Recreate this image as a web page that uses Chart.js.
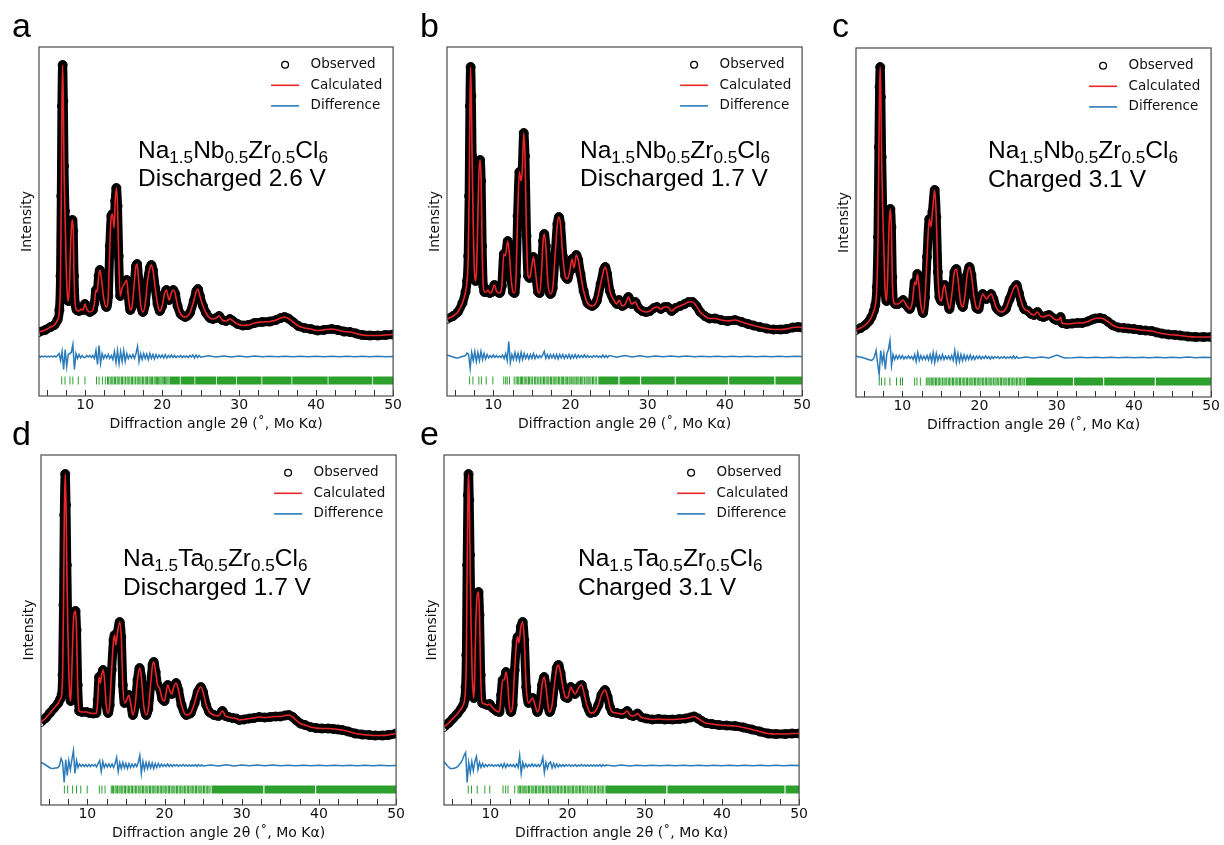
<!DOCTYPE html>
<html>
<head>
<meta charset="utf-8">
<script src="https://cdn.jsdelivr.net/npm/chart.js@4.4.1/dist/chart.umd.min.js"></script>
<style>
  html, body { margin: 0; padding: 0; background: #fff; }
  body { width: 1224px; height: 845px; position: relative; overflow: hidden; }
  canvas { position: absolute; }
  .letter { position: absolute; font-family: "Liberation Sans", Arial, sans-serif; font-size: 34px; line-height: 34px; color: #000; }
  .note { position: absolute; font-family: "Liberation Sans", Arial, sans-serif; font-size: 24.5px; line-height: 28.5px; color: #000; white-space: nowrap; }
  .note sub { font-size: 0.7em; vertical-align: -0.3em; line-height: 0; }
</style>
</head>
<body>
<script>
// ---------- axis definitions ----------
const xTickValues = [5, 7.5, 10, 12.5, 15, 17.5, 20, 22.5, 25, 27.5, 30, 32.5, 35, 37.5, 40, 42.5, 45, 47.5, 50];
const xLabelValues = [10, 20, 30, 40, 50];
const xTitle = 'Diffraction angle 2θ (˚, Mo Kα)';
const yTitle = 'Intensity';
const seriesLabels = ['Observed', 'Calculated', 'Difference'];

// ---------- compositions and cell states ----------
const compoundNb = 'Na<sub>1.5</sub>Nb<sub>0.5</sub>Zr<sub>0.5</sub>Cl<sub>6</sub>';
const compoundTa = 'Na<sub>1.5</sub>Ta<sub>0.5</sub>Zr<sub>0.5</sub>Cl<sub>6</sub>';
const states = ['Discharged 2.6 V', 'Discharged 1.7 V', 'Charged 3.1 V', 'Discharged 1.7 V', 'Charged 3.1 V'];

// ---------- diffraction profiles [2θ, intensity] ----------
const profileA = [[4.0,64],[4.8,66],[5.5,69],[6.0,71],[6.4,76],[6.65,86],[6.8,120],[6.9,200],[6.98,290],[7.07,331],[7.16,295],[7.25,230],[7.37,185],[7.5,140],[7.65,105],[7.8,95],[7.95,110],[8.1,150],[8.25,172],[8.35,176],[8.45,165],[8.55,120],[8.7,92],[8.9,86],[9.2,85],[9.5,87],[9.75,86],[9.96,92],[10.2,87],[10.6,84],[11.0,86],[11.2,93],[11.4,106],[11.55,104],[11.75,120],[11.9,126],[12.1,118],[12.4,98],[12.75,89],[13.0,100],[13.2,150],[13.4,180],[13.55,182],[13.75,168],[13.9,195],[14.05,208],[14.2,190],[14.35,140],[14.55,100],[14.8,108],[15.1,112],[15.4,116],[15.6,100],[15.85,86],[16.1,90],[16.4,115],[16.6,130],[16.75,132],[16.95,115],[17.2,92],[17.5,84],[17.8,92],[18.1,115],[18.4,128],[18.6,131],[18.8,126],[19.1,108],[19.4,92],[19.7,85],[20.0,90],[20.3,102],[20.55,106],[20.9,96],[21.2,103],[21.45,106],[21.7,102],[22.0,90],[22.4,82],[23.0,79],[23.6,83],[24.1,95],[24.45,105],[24.65,107],[24.9,100],[25.3,90],[25.7,83],[26.2,78],[26.6,77],[27.0,78],[27.4,80],[27.8,76],[28.3,75],[28.8,77],[29.2,75],[29.8,72],[30.5,70.5],[31.2,71],[32.0,73],[33.0,74],[34.0,74.5],[34.8,76],[35.4,78],[35.9,79],[36.4,77.5],[37.0,74],[37.7,70],[38.5,68],[39.3,67],[40.2,65.5],[41.0,66],[42.0,67],[42.8,66],[43.6,64.5],[44.4,64],[45.2,62.5],[46.0,61],[47.0,60.5],[48.0,60.5],[49.0,61],[50.0,61.5]];

const profileB = [[4.0,77],[4.8,80],[5.4,84],[6.0,93],[6.4,104],[6.6,115],[6.75,140],[6.87,200],[6.97,290],[7.06,329],[7.15,300],[7.25,240],[7.4,170],[7.55,125],[7.7,115],[7.85,130],[8.0,180],[8.15,225],[8.3,236],[8.42,215],[8.55,150],[8.7,110],[8.86,104],[9.1,104],[9.3,106],[9.55,103],[9.8,104],[10.15,111],[10.4,105],[10.8,103],[11.1,110],[11.36,142],[11.55,140],[11.87,155],[12.05,145],[12.3,118],[12.55,104],[12.75,103],[12.95,120],[13.15,180],[13.38,224],[13.6,215],[13.75,225],[13.94,263],[14.1,240],[14.3,160],[14.5,120],[14.7,118],[14.95,128],[15.2,139],[15.45,125],[15.8,104],[16.0,103],[16.25,125],[16.45,155],[16.6,162],[16.8,150],[17.05,115],[17.4,102],[17.7,108],[18.0,140],[18.3,172],[18.5,179],[18.7,172],[19.0,140],[19.3,120],[19.6,117],[19.9,125],[20.2,137],[20.45,128],[20.75,141],[21.0,136],[21.3,122],[21.7,105],[22.2,93],[22.8,90],[23.4,95],[23.9,112],[24.3,126],[24.5,129],[24.75,122],[25.1,105],[25.6,96],[26.0,92],[26.3,96],[26.7,90],[27.1,92],[27.5,99],[27.9,92],[28.4,94],[28.8,88],[29.3,85],[29.8,84],[30.3,85],[30.8,88],[31.2,89],[31.7,87],[32.2,89],[32.6,89],[33.1,85],[33.6,88],[34.2,90],[34.8,92],[35.3,94],[35.8,94],[36.3,90],[36.8,84],[37.4,80],[38.0,77.5],[38.7,77.5],[39.5,76],[40.3,75],[41.3,76],[42.2,74],[43.0,72],[43.7,70.5],[44.5,69],[45.4,67.5],[46.3,66.5],[47.2,66.5],[48.0,67],[48.8,68.5],[49.5,69],[50.0,68.5]];

const profileC = [[4.0,67],[4.6,69],[5.2,72],[5.7,76],[6.0,80],[6.3,86],[6.5,92],[6.7,110],[6.85,160],[6.97,250],[7.06,310],[7.14,330],[7.22,300],[7.32,240],[7.45,190],[7.6,150],[7.75,110],[7.95,96],[8.1,120],[8.28,170],[8.45,188],[8.58,170],[8.7,120],[8.85,96],[9.1,93],[9.46,93],[9.8,95],[10.1,97],[10.5,92],[10.96,88],[11.3,95],[11.6,115],[11.75,112],[11.95,123],[12.15,112],[12.4,92],[12.68,84],[12.95,100],[13.2,140],[13.5,178],[13.7,170],[13.9,185],[14.2,207],[14.4,180],[14.6,125],[14.8,100],[15.05,96],[15.3,108],[15.48,112],[15.75,100],[16.1,88],[16.45,105],[16.75,125],[17.0,128],[17.25,115],[17.55,95],[17.84,90],[18.1,100],[18.4,122],[18.7,130],[18.95,122],[19.3,100],[19.6,89],[19.86,88],[20.15,97],[20.42,103],[20.7,100],[20.9,98],[21.2,101],[21.5,103],[21.8,98],[22.2,89],[22.8,85],[23.4,88],[23.9,98],[24.4,108],[24.8,112],[25.1,104],[25.5,93],[25.8,88],[26.3,86],[26.7,83],[27.07,82],[27.5,85],[27.9,81],[28.3,80],[28.6,81],[29.0,82],[29.6,78.5],[30.0,77],[30.35,78],[30.5,80],[30.7,74],[31.3,73],[32.0,73.5],[32.7,74],[33.3,74],[34.0,75.5],[34.6,77.5],[35.0,78.5],[35.6,79],[36.1,78],[36.6,75.5],[37.2,72],[38.0,69.5],[38.7,69],[39.3,68.5],[40.0,68],[40.8,67],[41.5,66.5],[42.3,66],[43.0,64.5],[43.6,63.5],[44.5,62.5],[45.3,62],[46.0,61.5],[47.0,60.5],[48.0,60],[49.0,60],[50.0,60]];

const profileD = [[4.0,83],[4.6,87],[5.16,92],[5.7,97],[6.24,102],[6.5,106],[6.67,110],[6.8,130],[6.92,200],[7.02,290],[7.14,331],[7.24,300],[7.34,240],[7.46,180],[7.6,135],[7.75,108],[7.85,104],[7.98,130],[8.15,175],[8.3,192],[8.47,194],[8.6,175],[8.75,120],[8.94,94],[9.3,93],[9.9,93],[10.3,92],[10.8,91.5],[11.18,92],[11.35,105],[11.52,128],[11.7,122],[11.85,130],[12.04,135],[12.2,128],[12.45,100],[12.68,92],[12.9,100],[13.15,135],[13.4,165],[13.54,170],[13.7,160],[13.9,172],[14.19,183],[14.4,168],[14.6,120],[14.83,102],[15.1,105],[15.39,110],[15.65,100],[15.9,90],[16.2,100],[16.5,125],[16.77,137],[17.0,128],[17.3,100],[17.63,90],[17.9,96],[18.2,120],[18.45,140],[18.6,143],[18.85,133],[19.1,120],[19.35,117],[19.7,106],[20.0,104],[20.2,112],[20.42,120],[20.7,114],[20.94,111],[21.2,118],[21.5,122],[21.8,115],[22.2,100],[22.8,90],[23.4,92],[23.9,102],[24.3,113],[24.7,118],[25.0,113],[25.4,100],[25.8,93],[26.4,90],[27.0,89],[27.5,94],[27.9,89],[28.3,88],[28.8,87],[29.3,86.5],[29.67,85],[30.3,85.5],[31.0,86.5],[31.6,87],[32.25,88],[33.0,87.5],[33.7,88],[34.4,88.5],[35.0,88.5],[35.6,89.5],[36.1,90],[36.6,88],[37.1,84.5],[37.6,81.5],[38.2,80],[38.9,78],[39.6,77],[40.4,76.5],[41.2,76.5],[41.9,76],[42.5,75.5],[43.0,75],[43.8,73.5],[44.7,71.5],[45.6,70.5],[46.5,70],[47.3,69.5],[48.2,69.5],[49.0,70],[50.0,71.5]];

const profileE = [[4.0,78],[4.6,82],[5.16,86.5],[5.7,91],[6.24,96.5],[6.5,100],[6.67,105],[6.8,118],[6.9,150],[7.0,240],[7.1,310],[7.18,331],[7.27,305],[7.37,250],[7.5,180],[7.65,130],[7.8,110],[7.87,107],[7.98,130],[8.12,180],[8.3,210],[8.47,213],[8.6,190],[8.75,130],[8.94,102],[9.3,101],[9.6,100],[9.9,101],[10.3,97],[10.8,94],[11.18,93],[11.4,110],[11.6,125],[11.8,125],[12.04,133],[12.25,122],[12.45,100],[12.68,93],[12.9,100],[13.15,135],[13.4,163],[13.54,168],[13.7,162],[13.95,178],[14.19,183],[14.4,165],[14.65,118],[14.96,102],[15.2,104],[15.48,107],[15.8,100],[16.1,93],[16.4,100],[16.7,120],[16.98,128],[17.25,115],[17.5,98],[17.7,93],[18.0,100],[18.3,120],[18.6,137],[18.83,140],[19.1,132],[19.4,118],[19.7,108],[20.0,107],[20.2,112],[20.42,118],[20.7,114],[20.98,111],[21.3,115],[21.6,119],[21.84,120],[22.1,113],[22.5,100],[23.0,92],[23.5,93],[24.0,100],[24.4,110],[24.85,115],[25.2,108],[25.5,98],[25.8,93],[26.4,92],[27.0,91],[27.3,91.5],[27.73,94],[28.1,90],[28.5,89],[28.85,90],[29.06,91.5],[29.5,88],[30.2,86.5],[31.0,85.5],[31.8,86],[32.6,85.5],[33.6,85.5],[34.5,86],[35.3,86.5],[35.9,87.5],[36.4,88.5],[36.9,86.5],[37.4,84],[37.9,82],[38.7,81],[39.6,80],[40.6,79.5],[41.7,79],[42.8,77.5],[43.9,75.5],[44.9,73.5],[46.0,71.5],[47.0,71],[48.2,71],[49.1,71.5],[50.0,71.5]];

// ---------- difference curves (obs - calc) ----------
// fine grid: 4.0 to 24.8 in steps of 0.2; coarse grid: 25 to 50 in steps of 1
const diffFineStart = 4, diffFineStep = 0.2, diffCoarseStart = 25, diffCoarseStep = 1;
const diffOffset = 39.5;

const diffFineA = [
  0.5, -0.5, 0.5, -0.3, 0.4, -0.4, 0.3, -0.5, 0.5, -0.3,
  0.6, -0.6, 1, 3, -4, 5, -13, 7, -10, 2,
  3, 4, 12, -13, 3, -2, 2, -1.5, 1, -1,
  -1, 1, -0.5, 1, -1, 1, -2, 6, -8, 11,
  -7, 3, -2, 1.5, -1.5, 2, -2, 1, -3, 5,
  -6, 6, -7, 5, -5, 6, -5, 3, -2, 1.5,
  -1.5, 2, -2, 3, 10, -5, 3, -3, 3, -2,
  2.5, -3, 3, -2, 2, -2.5, 2, -1.5, 1.5, -1,
  1.5, -1.5, 2, -1.5, 1, -1, 1.5, -1, 1, -1,
  0.5, -0.5, 1, -1, 0.5, -0.5, 0.5, -1, 1, -0.5,
  1.5, -1.5, 1.5, -1, 1];
const diffCoarseA = [-0.8, 0.8, -0.5, 0.6, -0.5, 0.5, -0.4, 0.4, -0.3, 0.3, -0.3, 0.3, -0.3, 0.2, -0.2, 0.2, -0.2, 0.2, -0.2, 0.2, -0.2, 0.2, -0.2, 0.2, -0.2, 0];

const diffFineB = [
  1.5, 1, 0.5, 0, -0.5, -1, -1.5, -1.5, -1, -0.5,
  0, 0.5, 1, 3.5, 2, -12, 4, -4, 5, -5,
  4, -4, 5, -3, 3, -2.5, 2, -1.5, 1, -1,
  1.5, -1, 1, -1, 0.5, -1, 1.5, -2, 3, -4,
  15, -6, 2, -3, 4, -3, 3, -4, 4, -3,
  3, -2, 2, -2.5, 2, -2, 3, -2, 1.5, -1.5,
  1, -1, 1.5, 5, -2, 2, -2, 2, -1.5, 2,
  -2, 2, -2.5, 2, -1.5, 2, -2, 1.5, -1.5, 2,
  -2, 1.5, -1.5, 2, -1.5, 1.5, -1, 1, -1, 1.5,
  -1, 1, -1, 0.5, -1, 1, -0.5, 1, -1, 0.5,
  -1, 1.5, -1, 1, -1];
const diffCoarseB = [1, -0.8, 1, -0.5, 0.8, -0.5, 0.5, -0.3, 0.5, -0.3, 0.4, -0.3, 0.3, -0.3, 0.3, -0.2, 0.2, -0.2, 0.2, -0.2, 0.2, -0.2, 0.2, -0.2, 0.2, 0];

const diffFineC = [
  1.5, 1, 0.5, 0.5, 0, -0.5, -1, -1.5, -2, -2.5,
  -3, -2, 1, 7, -6, -17, 7, -5, 4, -12,
  4, 8, 17, -8, 3, -2, 2, -1.5, 2, -1,
  2, -1.5, 1, -1, 1.5, -1, 1, -2, 3, -4,
  5, -3, 2, -2, 1.5, -2, 2, -2.5, 3, -4,
  5, -5, 4, -3, 2, -2, 3, -2, 1.5, -1.5,
  1.5, -2, 2, -3, 7, -5, 4, -4, 3, -3,
  2.5, -2.5, 2, -2, 2.5, -2, 1.5, -2, 1.5, -1,
  1.5, -1.5, 1, -1, 1.5, -1, 1, -1.5, 1, -1,
  1, -0.5, 1, -1, 0.5, -0.5, 1, -1, 0.5, -0.5,
  1, -1, 1.5, -1, 1];
const diffCoarseC = [-0.8, 0.6, -0.5, 0.5, -0.4, 2.5, -0.4, -0.3, 0.3, -0.3, 0.3, -0.2, 0.2, -0.2, 0.2, -0.2, 0.2, -0.2, 0.2, -0.2, 0.2, -0.2, 0.6, -0.2, 0.2, 0];

const diffFineD = [
  3, 2.5, 1.5, 0.5, -0.5, -1.5, -2.5, -3, -3, -2.5,
  -2.5, -2, 0, 7, 3, -17, 6, -10, 5, -4,
  6, 15, -8, 5, -2, 1.5, -1, 1, -1, 1,
  -1, 1, -1, 1, -0.5, 1, -1.5, 2, 5, -6,
  4, -2, 1.5, -1.5, 1.5, -1.5, 1.5, -2, 2, 8,
  -6, 3, -3, 3, -2.5, 2, -3, 2, -2, 1.5,
  -1.5, 1.5, -1, 3, 10, -8, 4, -4, 3, -3,
  3, -2.5, 2.5, -3, 2, -2, 2, -1.5, 1.5, -1,
  1, -1, 1.5, -1, 1, -1, 1, -0.5, 1, -1,
  0.5, -0.5, 1, -0.5, 0.5, -0.5, 0.5, -0.5, 0.5, -0.5,
  1, -1, 1, -0.5, 0.5];
const diffCoarseD = [-0.5, 0.5, -0.4, 0.8, -0.4, 0.4, -0.3, 0.4, -0.3, 0.5, -0.3, 0.3, -0.2, 0.3, -0.2, 0.2, -0.2, 0.3, -0.2, 0.2, -0.2, 0.2, -0.2, 0.2, -0.2, 0];

const diffFineE = [
  4, 2, 0, -1.5, -3, -3, -3, -2.5, -2, -1,
  1, 3, 6, 10, 13, -17, 3, -7, 4, -5,
  4, 9, -4, 3, -2, 2, -1.5, 1, -1, 1,
  -0.5, 1, -1, 0.5, -0.5, 1, -1, 1.5, -2, 2,
  -2, 1.5, -1, 1, -1, 1, -1.5, 1.5, -2, 10,
  -8, 3, -2, 1.5, -1.5, 1, -1, 1.5, -1, 1,
  -1, 1, -1, 2, 8, -7, 3, -3, 2, 3.5,
  -2.5, 2, -2, 1.5, -1.5, 1, -1, 1, -1, 1,
  -0.5, 1, -1, 0.5, -0.5, 1, -1, 0.5, -0.5, 1,
  -0.5, 0.5, -0.5, 0.5, -0.5, 0.5, -0.5, 0.5, -0.5, 0.5,
  -0.5, 1, -1, 1, -0.5];
const diffCoarseE = [0.5, -0.5, 0.4, -0.4, 0.3, -0.3, 0.3, -0.3, 0.3, -0.2, 0.2, -0.2, 0.2, -0.2, 0.2, -0.2, 0.2, -0.2, 0.2, -0.2, 0.2, -0.2, 0.2, -0.2, 0.2, 0];

// ---------- Bragg reflection positions (2θ) ----------
const braggA = [6.95, 7.38, 8.02, 8.4, 9.1, 9.97, 11.47, 11.8, 12.24, 12.62, 12.9, 13.05, 13.25, 13.45, 13.6, 13.8, 13.95, 14.15, 14.3, 14.5, 14.7, 14.85, 15.05, 15.25, 15.45, 15.6, 15.8, 16.0, 16.15, 16.35, 16.55, 16.75, 16.9, 17.1, 17.25, 17.45, 17.6, 17.8, 17.95, 18.1, 18.3, 18.45, 18.6, 18.75, 18.95, 19.1, 19.25, 19.4, 19.55, 19.7, 19.85, 20.0, 20.15, 20.3, 20.45, 20.6, 20.75, 20.9];
const braggB = [6.93, 7.36, 8.13, 8.45, 9.08, 9.94, 11.35, 11.6, 11.8, 12.1, 12.7, 12.95, 13.15, 13.3, 13.5, 13.65, 13.8, 14.0, 14.2, 14.35, 14.55, 14.7, 14.9, 15.1, 15.35, 15.5, 15.7, 15.9, 16.1, 16.3, 16.5, 16.65, 16.85, 17.05, 17.2, 17.4, 17.55, 17.75, 17.9, 18.1, 18.25, 18.45, 18.6, 18.8, 18.95, 19.1, 19.3, 19.45, 19.6, 19.8, 19.95, 20.1, 20.3, 20.45, 20.6, 20.8, 20.95, 21.1, 21.3, 21.45, 21.6, 21.8, 22.0, 22.15, 22.3, 22.5, 22.65, 22.85, 23.0, 23.2, 23.4];
const braggC = [7.0, 7.31, 7.74, 8.39, 9.25, 9.76, 10.02, 11.6, 11.9, 12.34, 13.1, 13.3, 13.45, 13.6, 13.8, 13.95, 14.1, 14.3, 14.45, 14.65, 14.8, 15.0, 15.2, 15.4, 15.55, 15.75, 15.95, 16.1, 16.3, 16.5, 16.65, 16.85, 17.05, 17.2, 17.4, 17.55, 17.75, 17.95, 18.1, 18.3, 18.45, 18.65, 18.8, 19.0, 19.15, 19.35, 19.5, 19.7, 19.85, 20.05, 20.2, 20.4, 20.55, 20.75, 20.9, 21.1, 21.25, 21.45, 21.6, 21.8, 22.0, 22.15, 22.35, 22.5, 22.7, 22.85, 23.05, 23.2, 23.4, 23.55, 23.75, 23.9, 24.1, 24.25, 24.45, 24.6, 24.8, 24.95, 25.15, 25.3, 25.5, 25.65, 25.85];
const braggD = [7.03, 7.46, 8.1, 8.6, 9.15, 9.98, 11.55, 11.9, 12.3, 13.1, 13.25, 13.4, 13.6, 13.75, 13.9, 14.1, 14.25, 14.45, 14.6, 14.8, 14.95, 15.15, 15.35, 15.5, 15.7, 15.85, 16.05, 16.25, 16.4, 16.6, 16.8, 16.95, 17.15, 17.3, 17.5, 17.7, 17.85, 18.05, 18.2, 18.4, 18.55, 18.75, 18.9, 19.1, 19.25, 19.45, 19.6, 19.8, 19.95, 20.15, 20.3, 20.5, 20.65, 20.85, 21.0, 21.2, 21.35, 21.55, 21.7, 21.9, 22.05, 22.25, 22.4, 22.6, 22.75, 22.95, 23.1, 23.3, 23.45, 23.65, 23.8, 24.0, 24.15, 24.35, 24.5, 24.7, 24.85, 25.05, 25.2, 25.4, 25.55, 25.75, 25.9];
const braggE = [7.14, 7.57, 8.3, 9.29, 9.93, 11.65, 11.99, 12.29, 13.16, 13.6, 13.75, 13.9, 14.1, 14.25, 14.4, 14.6, 14.75, 14.95, 15.1, 15.3, 15.5, 15.65, 15.85, 16.0, 16.2, 16.4, 16.55, 16.75, 16.9, 17.1, 17.3, 17.45, 17.65, 17.8, 18.0, 18.15, 18.35, 18.5, 18.7, 18.85, 19.05, 19.2, 19.4, 19.6, 19.75, 19.95, 20.1, 20.3, 20.45, 20.65, 20.8, 21.0, 21.2, 21.35, 21.55, 21.7, 21.9, 22.05, 22.25, 22.4, 22.6, 22.8, 22.95, 23.15, 23.3, 23.5, 23.65, 23.85, 24.0, 24.2, 24.35, 24.55, 24.7];

// ranges where reflections are too closely spaced to separate: [from, to]
const braggBandsA = [[21.0, 22.3], [22.4, 24.2], [24.3, 27.0], [27.1, 29.6], [29.7, 32.9], [33.0, 36.8], [36.9, 41.5], [41.6, 47.3], [47.4, 50]];
const braggBandsB = [[23.6, 26.2], [26.35, 29.0], [29.15, 33.5], [33.65, 40.4], [40.55, 46.4], [46.55, 50]];
const braggBandsC = [[26.0, 32.1], [32.25, 36.0], [36.15, 42.7], [42.85, 50]];
const braggBandsD = [[26.1, 32.8], [32.95, 39.5], [39.65, 50]];
const braggBandsE = [[24.9, 32.8], [32.95, 48.1], [48.25, 50]];

const reflectionRowY = 15.5;

// ---------- page layout: plot-area corners and text anchors ----------
const panels = [
  { letter: 'a', L: 39,  T: 47,  R: 395,  B: 396, profile: profileA, diff: [diffFineA, diffCoarseA], bragg: braggA, bands: braggBandsA, compound: compoundNb, state: states[0], fx: 138, fy: 158.3, lx: 12,  ly: 37 },
  { letter: 'b', L: 447, T: 47,  R: 804,  B: 396, profile: profileB, diff: [diffFineB, diffCoarseB], bragg: braggB, bands: braggBandsB, compound: compoundNb, state: states[1], fx: 580, fy: 158.3, lx: 420, ly: 37 },
  { letter: 'c', L: 856, T: 48,  R: 1213, B: 397, profile: profileC, diff: [diffFineC, diffCoarseC], bragg: braggC, bands: braggBandsC, compound: compoundNb, state: states[2], fx: 988, fy: 159,   lx: 832, ly: 37 },
  { letter: 'd', L: 41,  T: 455, R: 398,  B: 805, profile: profileD, diff: [diffFineD, diffCoarseD], bragg: braggD, bands: braggBandsD, compound: compoundTa, state: states[3], fx: 123, fy: 567,   lx: 12,  ly: 445 },
  { letter: 'e', L: 444, T: 455, R: 801,  B: 805, profile: profileE, diff: [diffFineE, diffCoarseE], bragg: braggE, bands: braggBandsE, compound: compoundTa, state: states[4], fx: 578, fy: 567,   lx: 420, ly: 445 }
];

const COLORS = { obs: '#000000', calc: '#e8262a', diff: '#2b7bba', bragg: '#2ca02c', frame: '#4a4a4a', text: '#111111' };
const FONT = 'DejaVu Sans';

// inward tick marks on the bottom axis and the surrounding frame
const framePlugin = {
  id: 'frameAndTicks',
  afterDatasetsDraw(chart) {
    const { ctx, chartArea: a, scales: { x } } = chart;
    ctx.save();
    ctx.strokeStyle = '#333';
    ctx.lineWidth = 1;
    xTickValues.forEach(v => {
      const px = Math.round(x.getPixelForValue(v)) + 0.5;
      ctx.beginPath();
      ctx.moveTo(px, a.bottom);
      ctx.lineTo(px, a.bottom - 6);
      ctx.stroke();
    });
    ctx.strokeStyle = COLORS.frame;
    ctx.lineWidth = 1.2;
    ctx.strokeRect(a.left, a.top, a.right - a.left, a.bottom - a.top);
    ctx.restore();
  }
};

// legend in the upper-right corner of each plot
const legendPlugin = {
  id: 'insetLegend',
  afterDatasetsDraw(chart) {
    const { ctx, chartArea: a } = chart;
    ctx.save();
    for (let i = 0; i < 3; i++) {
      const ds = chart.data.datasets[i];
      const y = a.top + 17.7 + i * 20.6;
      const mx = a.right - 108;
      ctx.beginPath();
      if (i === 0) {
        ctx.arc(mx, y, 3.4, 0, Math.PI * 2);
        ctx.lineWidth = 1.3;
        ctx.strokeStyle = ds.pointBorderColor;
      } else {
        ctx.moveTo(mx - 14, y);
        ctx.lineTo(mx + 14, y);
        ctx.lineWidth = 1.6;
        ctx.strokeStyle = ds.borderColor;
      }
      ctx.stroke();
      ctx.fillStyle = COLORS.text;
      ctx.font = `13.5px "${FONT}"`;
      ctx.textBaseline = 'middle';
      ctx.textAlign = 'left';
      ctx.fillText(ds.label, a.right - 82.5, y);
    }
    ctx.restore();
  }
};

function diffPoints(fine, coarse) {
  const pts = fine.map((d, i) => ({ x: diffFineStart + i * diffFineStep, y: diffOffset + d }));
  coarse.forEach((d, i) => pts.push({ x: diffCoarseStart + i * diffCoarseStep, y: diffOffset + d }));
  return pts;
}

function bandPoints(bands) {
  const pts = [];
  bands.forEach(([a, b]) => {
    pts.push({ x: a, y: reflectionRowY }, { x: b, y: reflectionRowY }, { x: b + 0.01, y: null });
  });
  return pts;
}

const padL = 38, padT = 8, padR = 8, padB = 45;

panels.forEach(p => {
  const W = p.R - p.L, H = p.B - p.T;
  const canvas = document.createElement('canvas');
  canvas.width = W + padL + padR;
  canvas.height = H + padT + padB;
  canvas.style.left = (p.L - padL) + 'px';
  canvas.style.top = (p.T - padT) + 'px';
  canvas.style.width = canvas.width + 'px';
  canvas.style.height = canvas.height + 'px';
  document.body.appendChild(canvas);

  const profilePts = p.profile.map(([x, y]) => ({ x, y }));

  new Chart(canvas, {
    type: 'line',
    data: {
      datasets: [
        { label: seriesLabels[0], data: profilePts, borderColor: COLORS.obs, borderWidth: 9,
          pointRadius: 4.5, pointBorderWidth: 1, pointBorderColor: COLORS.obs, pointBackgroundColor: 'rgba(0,0,0,0)',
          cubicInterpolationMode: 'monotone', clip: 0, order: 2 },
        { label: seriesLabels[1], data: profilePts, borderColor: COLORS.calc, borderWidth: 1.6,
          pointRadius: 0, cubicInterpolationMode: 'monotone', clip: 0, order: 1 },
        { label: seriesLabels[2], data: diffPoints(p.diff[0], p.diff[1]), borderColor: COLORS.diff, borderWidth: 1.5,
          pointRadius: 0, tension: 0, clip: 0, order: 3 },
        { label: 'Reflections', data: p.bragg.map(x => ({ x, y: reflectionRowY })), showLine: false,
          pointStyle: 'line', pointRotation: 90, pointRadius: 4, pointBorderWidth: 1,
          pointBorderColor: COLORS.bragg, pointBackgroundColor: COLORS.bragg, clip: 0, order: 4 },
        { label: 'Reflection bands', data: bandPoints(p.bands), borderColor: COLORS.bragg, borderWidth: 8,
          borderCapStyle: 'butt', pointRadius: 0, spanGaps: false, clip: 0, order: 4 }
      ]
    },
    options: {
      responsive: false,
      animation: false,
      devicePixelRatio: 1,
      events: [],
      layout: { padding: { left: 0, top: padT, right: padR, bottom: 0 } },
      plugins: { legend: { display: false }, tooltip: { enabled: false } },
      scales: {
        x: {
          type: 'linear', min: 4, max: 50,
          afterBuildTicks(s) { s.ticks = xTickValues.map(v => ({ value: v })); },
          afterFit(s) { s.height = padB; },
          ticks: { autoSkip: false, maxRotation: 0, padding: 1, color: COLORS.text,
                   font: { family: FONT, size: 14 },
                   callback: v => xLabelValues.includes(v) ? String(v) : '' },
          grid: { display: false, drawTicks: false },
          border: { display: false },
          title: { display: true, text: xTitle, color: COLORS.text, font: { family: FONT, size: 14 },
                   padding: { top: 0, bottom: 8 } }
        },
        y: {
          type: 'linear', min: 0, max: H,
          afterFit(s) { s.width = padL; },
          ticks: { display: false },
          grid: { display: false, drawTicks: false },
          border: { display: false },
          title: { display: true, text: yTitle, color: COLORS.text, font: { family: FONT, size: 14 },
                   padding: { top: 18, bottom: 0 } }
        }
      }
    },
    plugins: [framePlugin, legendPlugin]
  });

  const letter = document.createElement('div');
  letter.className = 'letter';
  letter.textContent = p.letter;
  letter.style.left = p.lx + 'px';
  letter.style.top = (p.ly - 28.8) + 'px';
  document.body.appendChild(letter);

  const note = document.createElement('div');
  note.className = 'note';
  note.innerHTML = p.compound + '<br>' + p.state;
  note.style.left = p.fx + 'px';
  note.style.top = (p.fy - 22.6) + 'px';
  document.body.appendChild(note);
});
</script>
</body>
</html>
